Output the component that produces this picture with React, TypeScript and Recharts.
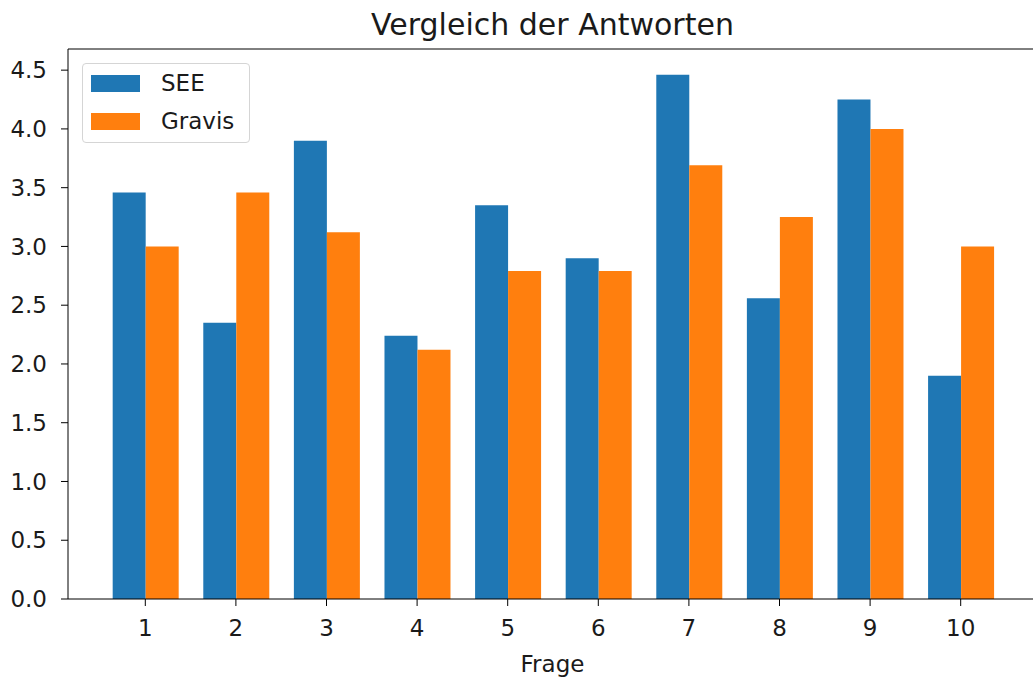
import React from 'react';
import { BarChart, Bar, XAxis, YAxis, Legend } from 'recharts';

const fragen = ['1', '2', '3', '4', '5', '6', '7', '8', '9', '10'];
const seeWerte = [3.46, 2.35, 3.9, 2.24, 3.35, 2.9, 4.46, 2.56, 4.25, 1.9];
const gravisWerte = [3.0, 3.46, 3.12, 2.12, 2.79, 2.79, 3.69, 3.25, 4.0, 3.0];
const yTicks = [0, 0.5, 1, 1.5, 2, 2.5, 3, 3.5, 4, 4.5];
const serien = [
  { key: 'see', name: 'SEE', color: '#1f77b4' },
  { key: 'gravis', name: 'Gravis', color: '#ff7f0e' },
];

const data = fragen.map((f, i) => ({ frage: f, see: seeWerte[i], gravis: gravisWerte[i] }));

const FONT = 'DejaVu Sans, sans-serif';
const TEXT = '#1a1a1a';

function LegendBox() {
  return (
    <div
      style={{
        boxSizing: 'border-box',
        width: 168,
        height: 80,
        border: '1px solid #d5d5d5',
        borderRadius: 4,
        background: 'rgba(255,255,255,0.8)',
        padding: '0 8px',
        fontFamily: FONT,
        fontSize: 23,
        color: TEXT,
      }}
    >
      {serien.map((s) => (
        <div key={s.key} style={{ height: 38, display: 'flex', alignItems: 'center' }}>
          <span style={{ display: 'inline-block', width: 49, height: 17, background: s.color, marginRight: 21 }} />
          <span>{s.name}</span>
        </div>
      ))}
    </div>
  );
}

export default function App() {
  return (
    <div style={{ position: 'absolute', left: 0, top: 0, width: 1033, height: 677, overflow: 'hidden', background: '#fff' }}>
      <BarChart
        width={1037}
        height={677}
        data={data}
        margin={{ top: 48, right: 0, bottom: 0, left: 0 }}
        barCategoryGap="14%"
        barGap={0}
        style={{ fontFamily: FONT }}
      >
        <XAxis
          dataKey="frage"
          padding={{ left: 32, right: 31 }}
          height={78}
          stroke="#000"
          tickSize={7}
          tickMargin={14}
          tick={{ fontSize: 23, fill: TEXT }}
          label={{ value: 'Frage', position: 'insideBottom', offset: 5, fontSize: 23, fill: TEXT }}
        />
        <XAxis
          xAxisId="top"
          orientation="top"
          dataKey="frage"
          padding={{ left: 32, right: 31 }}
          height={1}
          tick={false}
          tickLine={false}
          stroke="#000"
          label={{ value: 'Vergleich der Antworten', position: 'top', offset: 13, fontSize: 30, fill: TEXT }}
        />
        <YAxis
          type="number"
          domain={[0, 4.68]}
          ticks={yTicks}
          width={68}
          stroke="#000"
          tickSize={7}
          tickMargin={14}
          tick={{ fontSize: 23, fill: TEXT }}
          tickFormatter={(v: number) => v.toFixed(1)}
          interval={0}
        />
        <YAxis yAxisId="right" orientation="right" type="number" domain={[0, 4.68]} width={0} tick={false} tickLine={false} stroke="#000" />
        <Legend
          layout="vertical"
          align="center"
          verticalAlign="middle"
          content={<LegendBox />}
          wrapperStyle={{ left: 82, top: 63, width: 168, height: 80 }}
        />
        {serien.map((s) => (
          <Bar key={s.key} dataKey={s.key} name={s.name} fill={s.color} isAnimationActive={false} />
        ))}
      </BarChart>
    </div>
  );
}
